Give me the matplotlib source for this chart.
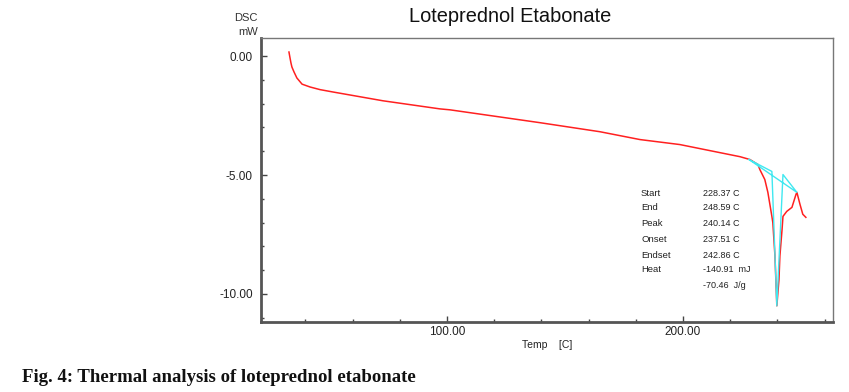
import matplotlib
matplotlib.use("Agg")
import matplotlib.pyplot as plt
from matplotlib.ticker import MultipleLocator, FixedLocator

# DSC curve (Temp in C, heat flow in mW)
temp = [33.05, 33.5, 33.9, 34.3, 35.2, 36.4, 38.6, 42.0, 46.2, 51.7, 72.9,
        97.0, 101.3, 139.4, 164.8, 181.8, 198.7, 224.2, 228.4, 231.8, 232.6,
        234.7, 236.0, 237.7, 238.1, 239.0, 239.8, 240.7, 241.1, 242.0, 242.4,
        244.0, 246.2, 247.9, 248.3, 249.6, 250.8, 252.1]
dsc = [0.17, -0.08, -0.29, -0.46, -0.67, -0.92, -1.18, -1.30, -1.41, -1.51, -1.88,
       -2.22, -2.26, -2.80, -3.18, -3.51, -3.72, -4.23, -4.35, -4.56, -4.77,
       -5.19, -5.73, -6.74, -7.0, -8.4, -10.5, -9.4, -8.4, -7.3, -6.74,
       -6.53, -6.36, -5.82, -5.73, -6.23, -6.65, -6.78]

# analysis construction lines (cyan)
cyan_t = [228.0, 237.7, 239.8, 242.4, 248.3, 228.0]
cyan_y = [-4.35, -4.85, -10.5, -4.98, -5.73, -4.35]

ann_labels = ["Start", "End", "Peak", "Onset", "Endset", "Heat", ""]
ann_values = ["228.37 C", "248.59 C", "240.14 C", "237.51 C", "242.86 C",
              "-140.91  mJ", "-70.46  J/g"]

title = "Loteprednol Etabonate"
caption = "Fig. 4: Thermal analysis of loteprednol etabonate"

plt.rcParams['font.family'] = ['Liberation Sans', 'DejaVu Sans']

W, H = 849, 392
fig = plt.figure(figsize=(W / 100, H / 100), dpi=100)
ax = fig.add_axes([261 / W, 1 - 322 / H, (833 - 261) / W, (322 - 38) / H])

ax.plot(temp, dsc, color='#ff2020', lw=1.1, zorder=2)
ax.plot(cyan_t, cyan_y, color='#40e8f0', lw=1.0, zorder=3)

ax.set_xlim(21.2, 263.6)
ax.set_ylim(-11.18, 0.76)

ax.xaxis.set_major_locator(FixedLocator([100, 200]))
ax.xaxis.set_minor_locator(MultipleLocator(20))
ax.yaxis.set_major_locator(FixedLocator([-10, -5, 0]))
ax.yaxis.set_minor_locator(MultipleLocator(1))
ax.xaxis.set_major_formatter(lambda v, p: f"{v:.2f}")
ax.yaxis.set_major_formatter(lambda v, p: f"{v:.2f}")

ax.tick_params(axis='both', which='major', direction='in', length=4, width=1,
               color='#444444', labelsize=8.5, labelcolor='#222222', pad=3)
ax.tick_params(axis='both', which='minor', direction='in', length=2, width=1,
               color='#444444')
ax.tick_params(axis='y', which='major', pad=6)

for s in ['left', 'bottom']:
    ax.spines[s].set_linewidth(2.0)
    ax.spines[s].set_color('#555555')
for s in ['top', 'right']:
    ax.spines[s].set_linewidth(1.0)
    ax.spines[s].set_color('#777777')

fig.text(510 / W, 1 - 17 / H, title, ha='center', va='center', fontsize=14.4,
         color='#111111')
fig.text(258 / W, 1 - 18 / H, "DSC", ha='right', va='center', fontsize=8,
         color='#333333')
fig.text(258 / W, 1 - 32 / H, "mW", ha='right', va='center', fontsize=8,
         color='#333333')
fig.text(547 / W, 1 - 345 / H, "Temp    [C]", ha='center', va='center',
         fontsize=7.5, color='#222222')

ys = [193, 208, 223, 240, 255, 270, 286]
for lab, val, yp in zip(ann_labels, ann_values, ys):
    if lab:
        fig.text(641 / W, 1 - yp / H, lab, ha='left', va='center', fontsize=6.8,
                 color='#222222')
    fig.text(703 / W, 1 - yp / H, val, ha='left', va='center', fontsize=6.5,
             color='#222222')

fig.text(22 / W, 1 - 377 / H, caption, ha='left', va='center', fontsize=13.5,
         fontweight='bold', family=['Liberation Serif', 'DejaVu Serif'],
         color='#111111')

fig.savefig("out.png", dpi=100)
